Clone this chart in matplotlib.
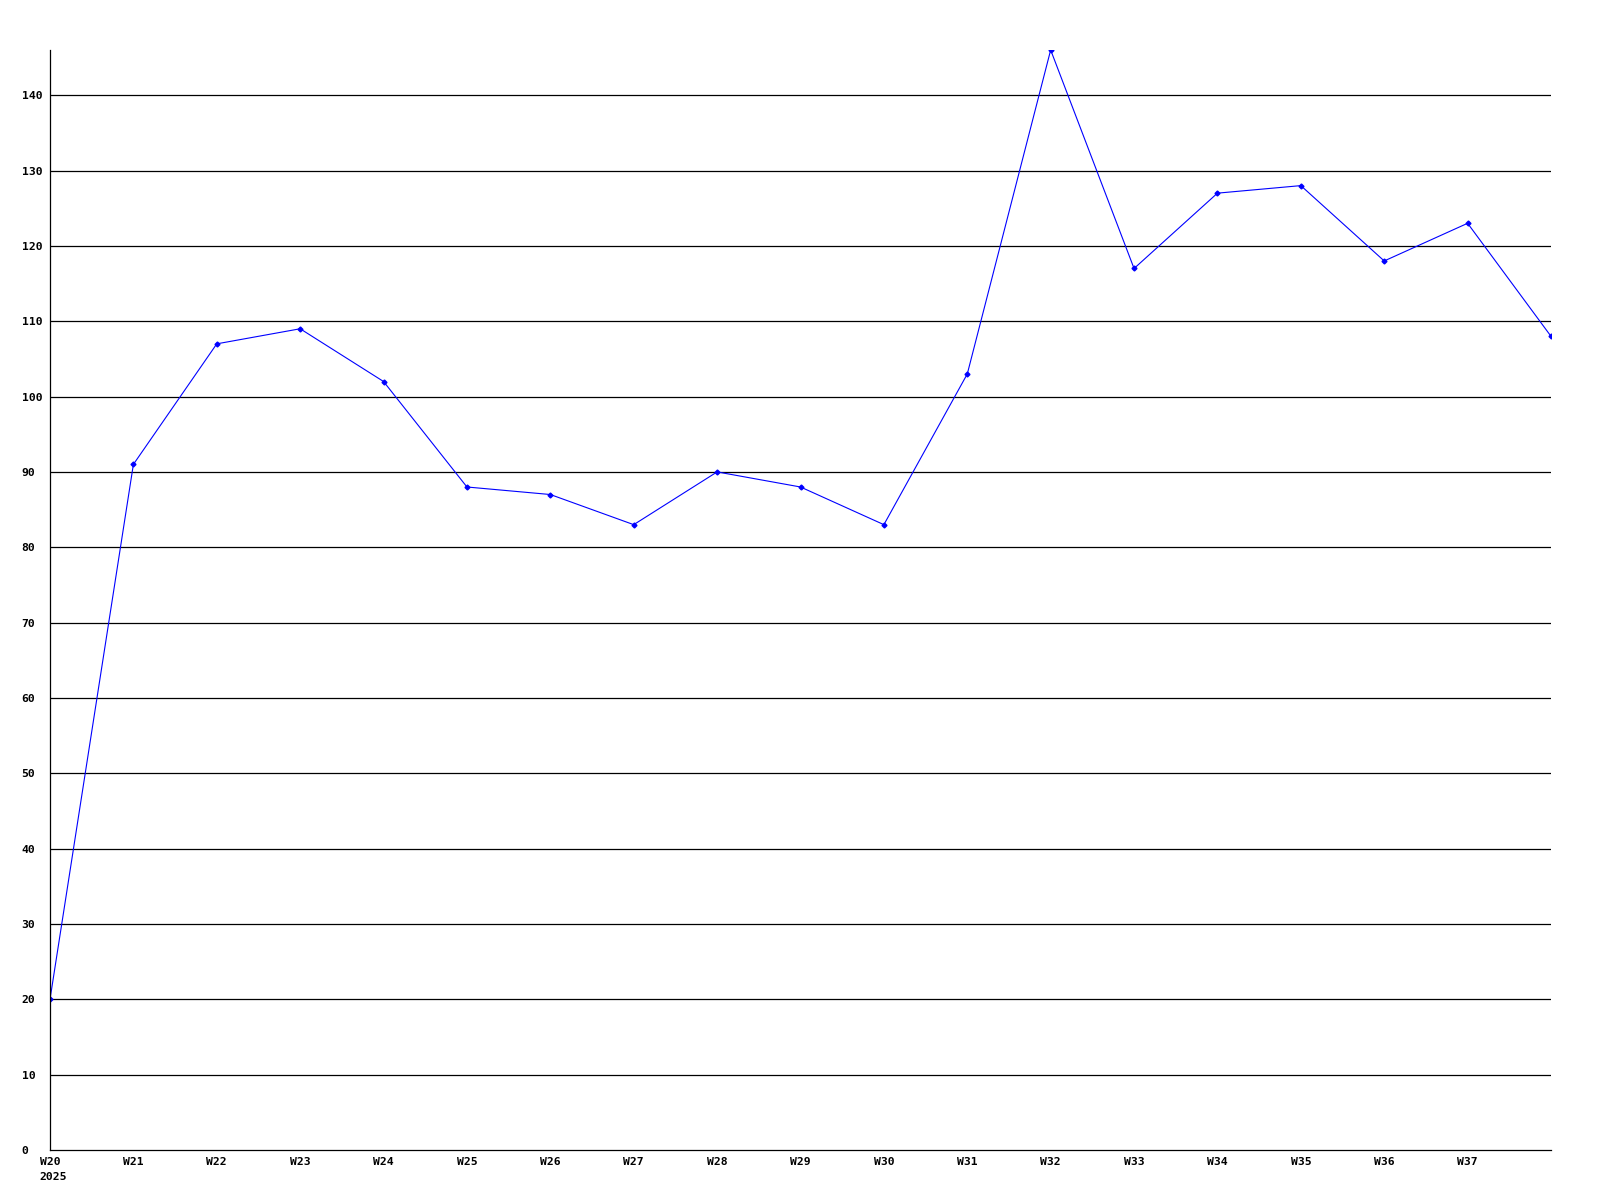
import matplotlib
matplotlib.use("Agg")
import matplotlib.pyplot as plt

weeks = ["W20", "W21", "W22", "W23", "W24", "W25", "W26", "W27", "W28", "W29",
         "W30", "W31", "W32", "W33", "W34", "W35", "W36", "W37", "W38"]
values = [20, 91, 107, 109, 102, 88, 87, 83, 90, 88,
          83, 103, 146, 117, 127, 128, 118, 123, 108]
tick_labels = ["W20", "W21", "W22", "W23", "W24", "W25", "W26", "W27", "W28",
               "W29", "W30", "W31", "W32", "W33", "W34", "W35", "W36", "W37"]
year_label = "2025"
y_ticks = list(range(0, 150, 10))

fig = plt.figure(figsize=(16, 12), dpi=100)
ax = fig.add_axes([50/1600, 50/1200, (1551-50)/1600, (1150-50)/1200])

x = list(range(len(values)))
ax.plot(x, values, color="#0000ff", linewidth=0.8, marker="D", markersize=2.5,
        markerfacecolor="#0000ff", markeredgecolor="#0000ff", clip_on=True)

ax.set_xlim(0, len(values) - 1)
ax.set_ylim(0, 146)
ax.set_yticks(y_ticks)
ax.set_yticklabels([str(v) for v in y_ticks])
ax.set_xticks(list(range(len(tick_labels))))
ax.set_xticklabels(tick_labels)

for v in y_ticks[1:]:
    ax.axhline(v, color="black", linewidth=0.9, zorder=0)

for s in ["top", "right"]:
    ax.spines[s].set_visible(False)
for s in ["left", "bottom"]:
    ax.spines[s].set_linewidth(0.9)
    ax.spines[s].set_color("black")

font = dict(family="DejaVu Sans Mono", weight="bold", size=8.2)

ax.tick_params(axis="both", length=0)
ax.tick_params(axis="y", pad=20.5)
ax.tick_params(axis="x", pad=5)
for lab in ax.get_yticklabels():
    lab.set_horizontalalignment("left")
    lab.set_fontfamily(font["family"])
    lab.set_fontweight(font["weight"])
    lab.set_fontsize(font["size"])
for lab in ax.get_xticklabels():
    lab.set_fontfamily(font["family"])
    lab.set_fontweight(font["weight"])
    lab.set_fontsize(font["size"])

ax.annotate(year_label, xy=(0, 0), xycoords=("data", "axes fraction"),
            xytext=(-7.4, -16), textcoords="offset points",
            ha="left", va="top", annotation_clip=False, **font)

fig.savefig("out.png", dpi=100, facecolor="white")
